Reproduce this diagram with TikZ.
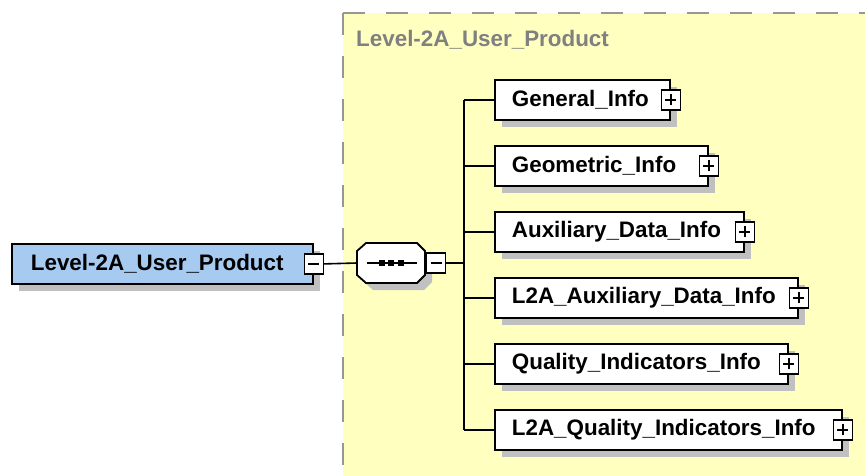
\documentclass[tikz,border=0pt]{standalone}
\usepackage{fontspec}
\setmainfont{Liberation Sans}
\usetikzlibrary{shadows}
\definecolor{bgyellow}{RGB}{255,255,192}
\definecolor{dashgray}{RGB}{150,150,150}
\definecolor{titlegray}{RGB}{128,128,128}
\definecolor{shadowgray}{RGB}{192,192,192}
\definecolor{mainblue}{RGB}{166,202,240}
\begin{document}
\begin{tikzpicture}[x=1pt,y=-1pt,
  lbl/.style={font=\bfseries\fontsize{22.4}{26}\selectfont},
  shad/.style={drop shadow={shadow xshift=7pt, shadow yshift=-7pt, fill=shadowgray, opacity=1}},
  elem/.style={lbl, draw=black, line width=1.8pt, fill=white, minimum height=40pt,
    inner xsep=17pt, inner ysep=0pt, align=left, anchor=north west, shad},
  mainbox/.style={elem, fill=mainblue, inner xsep=19pt},
  expbox/.style={draw=black, line width=1.6pt, fill=white, minimum width=19pt,
    minimum height=20pt, inner sep=0pt, anchor=center},
  expminus/.style={expbox, path picture={
    \draw[line width=1.8pt] ([xshift=-5.5pt]path picture bounding box.center) -- ([xshift=5.5pt]path picture bounding box.center);}},
  expplus/.style={expbox, path picture={
    \draw[line width=1.8pt] ([xshift=-5.5pt]path picture bounding box.center) -- ([xshift=5.5pt]path picture bounding box.center);
    \draw[line width=1.8pt] ([yshift=-5.5pt]path picture bounding box.center) -- ([yshift=5.5pt]path picture bounding box.center);}},
  conn/.style={draw=black, line width=1.6pt}
]
\useasboundingbox (0,0) rectangle (865,475);
\clip (0,0) rectangle (865,475);

% group area
\fill[bgyellow] (343,13) rectangle (900,500);
\draw[dashgray, line width=2pt, dash pattern=on 22pt off 21pt] (343,13) -- (900,13);
\draw[dashgray, line width=2pt, dash pattern=on 22pt off 21pt] (343,13) -- (343,500);
\node[lbl, text=titlegray, anchor=west, inner sep=0pt] (title) at (356,40) {Level-2A\_User\_Product};

% main element
\node[mainbox, text width=263pt] (main) at (11,243) {Level-2A\_User\_Product};
\node[expminus] (mainM) at (main.east) {};

% sequence compositor (octagon)
\fill[shadowgray] (373,250) -- (424,250) -- (432,258) -- (432,282) -- (424,290) -- (373,290) -- (364,282) -- (364,258) -- cycle;
\draw[line width=1.8pt, fill=white] (366,243) -- (417,243) -- (425,251) -- (425,275) -- (417,283) -- (366,283) -- (357,275) -- (357,251) -- cycle;
\node[minimum width=68pt, minimum height=40pt, inner sep=0pt] (seq) at (391,263) {};
\node[expminus] (seqM) at (436,263) {};
\draw[line width=1.8pt] ([xshift=-24pt]seq.center) -- ([xshift=26pt]seq.center);
\fill ([xshift=-9pt]seq.center) +(-3.3,-3.3) rectangle +(3.3,3.3);
\fill (seq.center) +(-3.3,-3.3) rectangle +(3.3,3.3);
\fill ([xshift=10pt]seq.center) +(-3.3,-3.3) rectangle +(3.3,3.3);

\coordinate (tr) at (464,263);

% children
\node[elem, text width=141pt] (c1) at (494,79)  {General\_Info};
\node[expplus] (c1P) at (c1.east) {};
\node[elem, text width=179pt] (c2) at (494,145) {Geometric\_Info};
\node[expplus] (c2P) at (c2.east) {};
\node[elem, text width=215pt] (c3) at (494,211) {Auxiliary\_Data\_Info};
\node[expplus] (c3P) at (c3.east) {};
\node[elem, text width=269pt] (c4) at (494,277) {L2A\_Auxiliary\_Data\_Info};
\node[expplus] (c4P) at (c4.east) {};
\node[elem, text width=259pt] (c5) at (494,343) {Quality\_Indicators\_Info};
\node[expplus] (c5P) at (c5.east) {};
\node[elem, text width=313pt] (c6) at (494,409) {L2A\_Quality\_Indicators\_Info};
\node[expplus] (c6P) at (c6.east) {};

% connectors
\draw[conn] (mainM.east) -- (seq.west);
\draw[conn] (seq.east) -- (seqM.west);
\draw[conn] (seqM.east) -- (tr);
\draw[conn] (c1.west -| tr) -- (c6.west -| tr);
\foreach \c in {c1,c2,c3,c4,c5,c6}{
  \draw[conn] (\c.west -| tr) -- (\c.west);
}
\end{tikzpicture}
\end{document}
